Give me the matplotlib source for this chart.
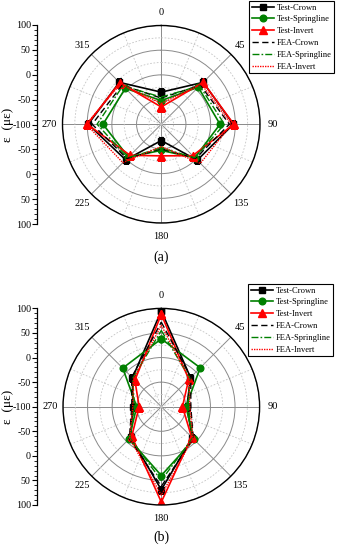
# Polar strain distribution, test vs FEA, two load cases (a) and (b)
import numpy as np
import matplotlib
matplotlib.use('Agg')
import matplotlib.pyplot as plt
from matplotlib.ticker import MultipleLocator

plt.rcParams['font.family'] = ['Liberation Serif', 'DejaVu Serif']

angles = [0, 45, 90, 135, 180, 225, 270, 315]
series_names = ['Test-Crown', 'Test-Springline', 'Test-Invert',
                'FEA-Crown', 'FEA-Springline', 'FEA-Invert']
axis_labels = ['100', '50', '0', '-50', '-100', '-50', '0', '50', '100']

# case (a)
a_test_crown = [-35, 20, 46, 3, -67, 2, 48, 20]
a_test_spring = [-52, 6, 19, -4, -47, -6, 18, 3]
a_test_invert = [-65, 20, 47, -10, -36, -11, 50, 19]
a_fea_crown = [-47, 12, 38, -2, -50, -2, 40, 12]
a_fea_spring = [-45, 10, 28, -4, -52, -4, 30, 10]
a_fea_invert = [-58, 15, 42, 12, -55, 10, 52, 16]

# case (b)
b_test_crown = [95, -16, -48, -11, 69, -12, -42, -17]
b_test_spring = [38, 12, -50, -6, 40, -7, -50, 11]
b_test_invert = [88, -21, -57, -13, 94, -15, -55, -24]
b_fea_crown = [72, -15, -40, -8, 62, -8, -40, -15]
b_fea_spring = [55, -18, -45, -10, 50, -10, -45, -18]
b_fea_invert = [66, -20, -42, -9, 80, -9, -42, -20]

styles = [
    dict(color='black', ls='-', lw=1.2, marker='s', ms=4.5),
    dict(color='#008000', ls='-', lw=1.2, marker='o', ms=4.8),
    dict(color='red', ls='-', lw=1.2, marker='^', ms=5.5),
    dict(color='black', ls=(0, (4.5, 2.5)), lw=1.0, marker=None),
    dict(color='#008000', ls=(0, (5, 1.5, 1.2, 1.5)), lw=1.0, marker=None),
    dict(color='red', ls=(0, (1, 0.8)), lw=1.0, marker=None),
]


def draw(fig, rect_polar, rect_axis, data, caption, cap_y, leg_anchor):
    ax = fig.add_axes(rect_polar, projection='polar')
    ax.set_theta_zero_location('N')
    ax.set_theta_direction(-1)
    th = np.radians(angles + [angles[0]])
    for name, vals, st in zip(series_names, data, styles):
        ax.plot(th, list(vals) + [vals[0]], label=name, **st)
    ax.set_ylim(-100, 100)
    ax.set_yticks([-50, 0, 50, 100])
    ax.set_yticks([-75, -25, 25, 75], minor=True)
    ax.set_yticklabels([])
    ax.set_xticks(np.radians(angles))
    ax.set_xticklabels([str(a) for a in angles], fontsize=7.5)
    ax.set_xticks(np.radians(np.arange(22.5, 360, 45)), minor=True)
    ax.yaxis.grid(True, which='major', color='#8a8a8a', lw=0.7, ls='-')
    ax.yaxis.grid(True, which='minor', color='#c4c4c4', lw=0.6, ls=(0, (2, 2)))
    ax.xaxis.grid(True, which='major', color='#8a8a8a', lw=0.7, ls='-')
    ax.xaxis.grid(True, which='minor', color='#c4c4c4', lw=0.6, ls=(0, (2, 2)))
    ax.tick_params(axis='x', which='major', pad=0.5, length=4, direction='inout')
    ax.tick_params(axis='x', which='minor', length=2, direction='out')
    ax.tick_params(axis='y', which='both', length=0)
    ax.spines['polar'].set_linewidth(1.0)

    # straight radial scale on the left
    axl = fig.add_axes(rect_axis)
    axl.set_ylim(-200, 200)
    axl.set_yticks(np.arange(-200, 201, 50))
    axl.set_yticklabels(axis_labels, fontsize=7.2)
    axl.yaxis.set_minor_locator(MultipleLocator(10))
    axl.tick_params(axis='y', which='major', length=3.5, width=0.8, pad=1)
    axl.tick_params(axis='y', which='minor', length=2, width=0.6)
    axl.set_xticks([])
    for s in ['top', 'right', 'bottom']:
        axl.spines[s].set_visible(False)
    axl.spines['left'].set_linewidth(0.9)
    axl.patch.set_visible(False)
    fig.text(8 / 339, rect_axis[1] + rect_axis[3] / 2, 'ε  (με)',
             rotation=90, ha='center', va='center', fontsize=9.5)

    leg = ax.legend(loc='upper right', bbox_to_anchor=leg_anchor,
                    bbox_transform=fig.transFigure, fontsize=6.1,
                    handlelength=2.6, handletextpad=0.3, labelspacing=0.45,
                    borderpad=0.3, borderaxespad=0, fancybox=False,
                    framealpha=1)
    leg.get_frame().set_edgecolor('black')
    leg.get_frame().set_linewidth(0.8)

    fig.text(rect_polar[0] + rect_polar[2] / 2, cap_y, caption,
             ha='center', va='center', fontsize=10)


fig = plt.figure(figsize=(3.39, 5.5), dpi=100)

draw(fig, [62.5 / 339, 1 - 223 / 550, 197.5 / 339, 197.5 / 550],
     [37 / 339, 1 - 224 / 550, 0.0005, 199 / 550],
     [a_test_crown, a_test_spring, a_test_invert,
      a_fea_crown, a_fea_spring, a_fea_invert],
     '(a)', 1 - 257 / 550, (334 / 339, 1 - 1 / 550))

draw(fig, [63 / 339, 1 - 505 / 550, 196.6 / 339, 196.6 / 550],
     [37 / 339, 1 - 505 / 550, 0.0005, 196.6 / 550],
     [b_test_crown, b_test_spring, b_test_invert,
      b_fea_crown, b_fea_spring, b_fea_invert],
     '(b)', 1 - 537 / 550, (333 / 339, 1 - 284 / 550))

fig.savefig('out.png', dpi=100)
